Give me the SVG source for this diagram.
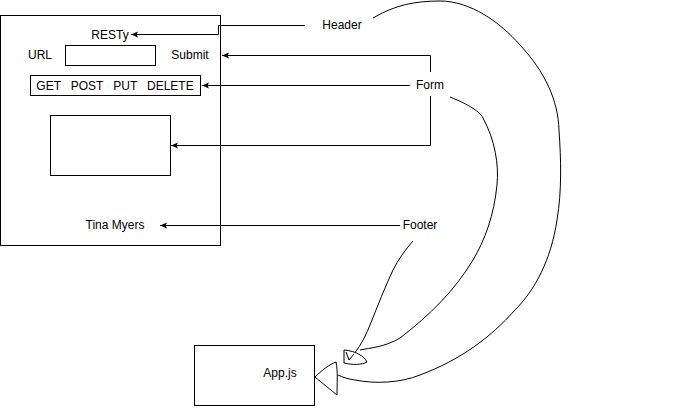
<svg xmlns="http://www.w3.org/2000/svg" width="699" height="416" viewBox="0 0 699 416">
<style>
.box{fill:#fff;stroke:#000;stroke-width:1}
.t{font-family:"Liberation Sans",Arial,sans-serif;font-size:12px;fill:#000;text-anchor:middle;dominant-baseline:central}
.e{fill:none;stroke:#000;stroke-width:1}
.c{fill:none;stroke:#000;stroke-width:1}
.ah{fill:#fff;stroke:#000;stroke-width:1;stroke-linejoin:round}
</style>
<defs>
<marker id="arr" markerWidth="8" markerHeight="8" refX="7" refY="4" orient="auto" markerUnits="userSpaceOnUse">
<path d="M0,1 L7,4 L0,7 L1.5,4 Z" fill="#000"/>
</marker>
</defs>
<rect width="699" height="416" fill="#fff"/>
<g id="main">
<rect class="box" x="0.5" y="15.5" width="220" height="230"/>
</g>
<g id="resty"><text class="t" x="110" y="35">RESTy</text></g>
<g id="url"><text class="t" x="40" y="55">URL</text></g>
<g id="urlinput"><rect class="box" x="65.5" y="45.5" width="90" height="20"/></g>
<g id="submit"><text class="t" x="190" y="55">Submit</text></g>
<g id="methods"><rect class="box" x="30.5" y="75.5" width="170" height="20"/><text class="t" x="115" y="86" xml:space="preserve">GET   POST   PUT   DELETE</text></g>
<g id="output"><rect class="box" x="50.5" y="115.5" width="120" height="60"/></g>
<g id="tina"><text class="t" x="115" y="225">Tina Myers</text></g>
<g id="header"><text class="t" x="342" y="25">Header</text></g>
<g id="form"><text class="t" x="430" y="85">Form</text></g>
<g id="footer"><text class="t" x="420" y="225">Footer</text></g>
<g id="app"><rect class="box" x="194.5" y="345.5" width="120" height="60"/><text class="t" x="280" y="373">App.js</text></g>
<g id="connectors">
<path class="e" d="M305,25.5 H218.5 V34.5 H131" marker-end="url(#arr)"/>
<path class="e" d="M430.5,72 V55.5 H222" marker-end="url(#arr)"/>
<path class="e" d="M410,85.5 H202" marker-end="url(#arr)"/>
<path class="e" d="M430.5,96 V145.5 H171" marker-end="url(#arr)"/>
<path class="e" d="M400,225.5 H160" marker-end="url(#arr)"/>
<path class="c" d="M373,18 C395,5 415,1 440,1 C470,1 500,22 520,45 C545,72 558,100 559,130 C561,160 562,190 557,220 C551,260 535,290 515,310 C490,338 460,360 420,375 C400,383 375,384 355,380 C348,379 342,377 338,375"/>
<path class="ah" d="M315,377 C321,371 330,364 336,362 C338,370 337,385 337,395 C332,391 321,382 315,377 Z"/>
<path class="c" d="M450,97 C470,105 480,112 483,118 C495,140 499,165 497,185 C494,215 485,240 473,260 C455,290 430,315 400,338 C385,347 370,348 360,350"/>
<path class="c" d="M413,241 C405,250 398,260 393,270 C385,287 378,305 370,325 C363,343 355,353 349,360"/>
<path class="ah" d="M344,350 L344,363 C352,365 362,365 367,362 C364,356 356,351 344,350 Z"/>
<path class="c" d="M346,352 L349,360 L354,354"/>
</g>
</svg>
